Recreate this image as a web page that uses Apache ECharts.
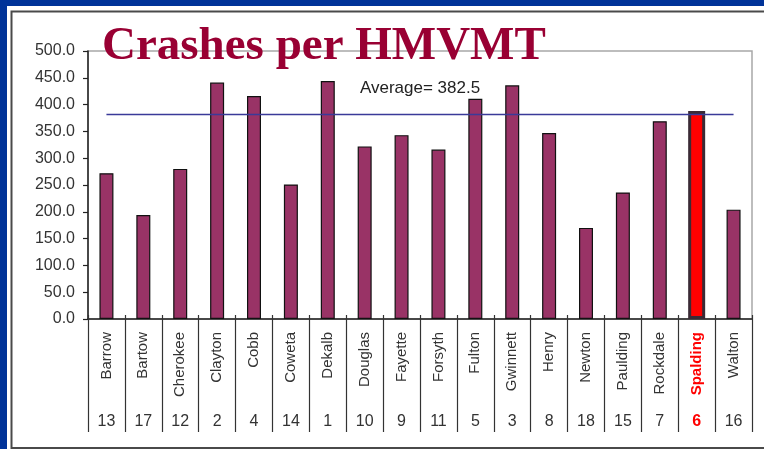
<!DOCTYPE html>
<html>
<head>
<meta charset="utf-8">
<script src="https://cdn.jsdelivr.net/npm/echarts@6/dist/echarts.min.js"></script>
<style>
html,body{margin:0;padding:0;background:#fff;}
#c{width:764px;height:449px;}
</style>
</head>
<body>
<div id="c"></div>
<script>
const counties = ['Barrow','Bartow','Cherokee','Clayton','Cobb','Coweta','Dekalb','Douglas','Fayette','Forsyth','Fulton','Gwinnett','Henry','Newton','Paulding','Rockdale','Spalding','Walton'];
const crashRates = [272, 194, 280, 441, 416, 251, 444, 322, 343, 316, 411, 436, 347, 170, 236, 369, 388, 204];
const ranks = ['13','17','12','2','4','14','1','10','9','11','5','3','8','18','15','7','6','16'];
const average = 382.5;
const highlighted = 'Spalding';
const yTicks = [0, 50, 100, 150, 200, 250, 300, 350, 400, 450, 500];

const hi = counties.indexOf(highlighted);
const redText = {color: '#ff0000', fontWeight: 'bold'};
const nameAxisData = counties.map((c, i) => i === hi ? {value: c, textStyle: redText} : c);
const rankAxisData = ranks.map((r, i) => i === hi ? {value: r, textStyle: redText} : r);
const baseData = crashRates.map((v, i) => i === hi ? '-' : v);
const hiData = crashRates.map((v, i) => i === hi ? v : '-');

const chart = echarts.init(document.getElementById('c'), null, {renderer: 'canvas'});
chart.setOption({
  backgroundColor: '#003399',
  animation: false,
  graphic: [
    {type: 'rect', z: -10, shape: {x: 7, y: 6, width: 800, height: 450}, style: {fill: '#ffffff'}},
    {type: 'rect', z: -9, shape: {x: 11.5, y: 11.5, width: 800, height: 436.5}, style: {fill: 'none', stroke: '#4a4a4a', lineWidth: 2}}
  ],
  title: {
    text: 'Crashes per HMVMT',
    left: 97, top: 18,
    textStyle: {fontFamily: 'Liberation Serif', fontWeight: 'bold', fontSize: 47, color: '#990033'}
  },
  grid: {left: 88, right: 12, top: 51, bottom: 130, show: true, borderColor: '#a8a8a8', borderWidth: 1.5, backgroundColor: 'transparent'},
  xAxis: [
    {
      type: 'category', data: nameAxisData, position: 'bottom',
      axisLine: {lineStyle: {color: '#222', width: 1.5}},
      axisTick: {show: true, length: 113, lineStyle: {color: '#333', width: 1.2}},
      axisLabel: {rotate: 90, margin: 13, fontFamily: 'Liberation Sans', fontSize: 15, color: '#333', interval: 0}
    },
    {
      type: 'category', data: rankAxisData, position: 'bottom',
      axisLine: {show: false},
      axisTick: {show: true, inside: true, length: 4, lineStyle: {color: '#333', width: 1.2}},
      axisLabel: {margin: 95, fontFamily: 'Liberation Sans', fontSize: 16, color: '#333', interval: 0}
    }
  ],
  yAxis: {
    type: 'value', min: yTicks[0], max: yTicks[yTicks.length - 1], interval: 50,
    splitLine: {show: false},
    axisLine: {show: true, lineStyle: {color: '#222', width: 1.5}},
    axisTick: {show: true, length: 5, lineStyle: {color: '#222', width: 1.2}},
    axisLabel: {margin: 13, fontFamily: 'Liberation Sans', fontSize: 16, color: '#333', formatter: v => v.toFixed(1)}
  },
  series: [
    {
      type: 'bar', xAxisIndex: 0, data: baseData, barWidth: 14,
      itemStyle: {color: '#993366', borderColor: '#111', borderWidth: 1.2},
      markLine: {
        symbol: 'none', silent: true,
        lineStyle: {color: '#3a3a99', width: 1.3, type: 'solid'},
        label: {show: true, position: 'middle', distance: 17, formatter: 'Average= ' + average,
                fontFamily: 'Liberation Sans', fontSize: 17, color: '#222'},
        data: [[{coord: [counties[0], average]}, {coord: [counties[counties.length - 1], average]}]]
      }
    },
    {
      type: 'bar', xAxisIndex: 1, data: hiData, barWidth: 17,
      itemStyle: {color: '#ff0000', borderColor: '#3a2a35', borderWidth: 3}
    }
  ]
});
</script>
</body>
</html>
